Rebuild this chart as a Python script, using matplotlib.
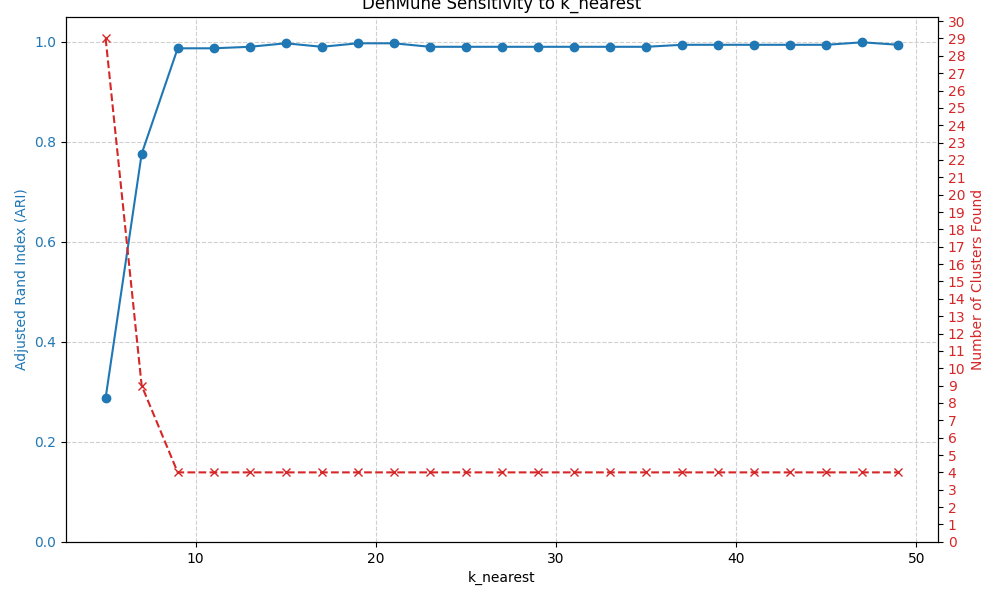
import matplotlib
matplotlib.use("Agg")
import matplotlib.pyplot as plt

# --- Data ---
k_values = list(range(5, 50, 2))
ari_scores = [0.288, 0.776, 0.987, 0.987, 0.990, 0.997, 0.990, 0.997, 0.997,
              0.990, 0.990, 0.990, 0.990, 0.990, 0.990, 0.990, 0.994, 0.994,
              0.994, 0.994, 0.994, 0.999, 0.994]
n_clusters = [29, 9] + [4] * 21

fig, ax1 = plt.subplots(figsize=(10, 6), dpi=100)
fig.subplots_adjust(left=0.066, right=0.938, bottom=0.097, top=0.972)

color1 = 'tab:blue'
ax1.set_xlabel('k_nearest')
ax1.set_ylabel('Adjusted Rand Index (ARI)', color=color1)
ax1.plot(k_values, ari_scores, marker='o', color=color1, label='ARI')
ax1.tick_params(axis='y', labelcolor=color1)
ax1.set_ylim(0, 1.05)
ax1.grid(True, linestyle='--', alpha=0.6)

ax2 = ax1.twinx()
color2 = 'tab:red'
ax2.set_ylabel('Number of Clusters Found', color=color2)
ax2.plot(k_values, n_clusters, marker='x', linestyle='--', color=color2, label='Clusters')
ax2.tick_params(axis='y', labelcolor=color2)
ax2.set_ylim(bottom=0)
ax2.set_yticks(range(0, 31))

plt.title('DenMune Sensitivity to k_nearest')
plt.savefig('out.png', dpi=100)
